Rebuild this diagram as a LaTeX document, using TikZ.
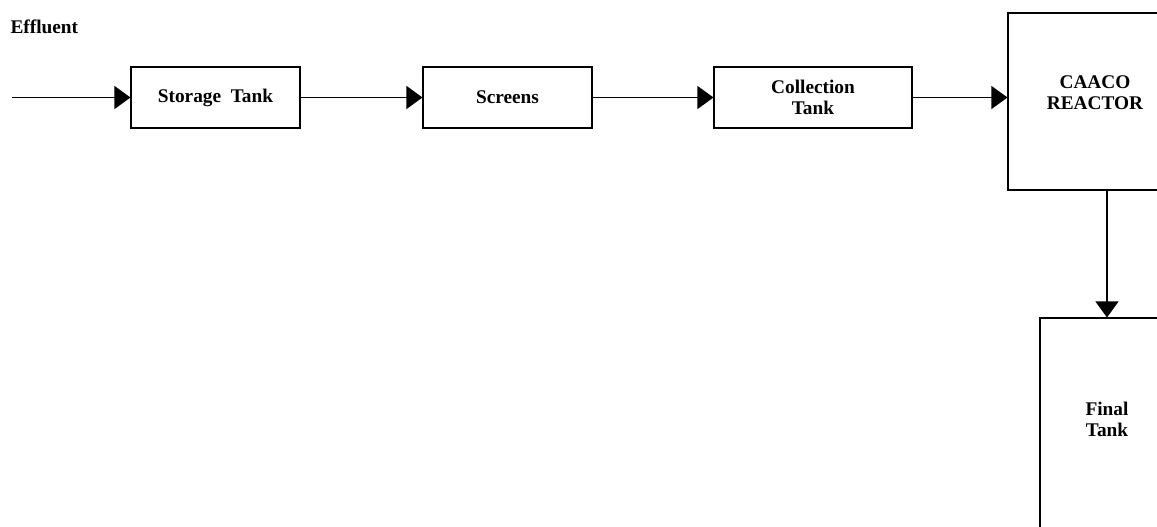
\documentclass[tikz,border=0pt]{standalone}
\usepackage{fontspec}
\setmainfont{Liberation Serif}
\usepackage{tikz}
\usetikzlibrary{calc}
\usetikzlibrary{arrows.meta}
\tikzset{>={Triangle[length=3.2mm,width=4.6mm]}}

\begin{document}
\begin{tikzpicture}[font=\fontsize{11}{13.2}\selectfont\bfseries,line width=0.6pt]
	\useasboundingbox (0,0) rectangle (23.14,-10.54);
	\clip (0,0) rectangle (23.14,-10.54);
	\node[anchor=west,inner sep=0pt] (effluent) at (0.2,-0.54) {Effluent};
	\coordinate (inlet) at (0.24,-1.95);
	\node[draw,minimum width=3.38cm,minimum height=1.22cm] (storage) at (4.31,-1.95) {Storage\ \ Tank};
	\node[draw,minimum width=3.38cm,minimum height=1.22cm] (screens) at (10.15,-1.95) {Screens};
	\node[draw,minimum width=3.96cm,minimum height=1.22cm,align=center] (collection) at (16.26,-1.95) {Collection\\[-1pt]Tank};
	\node[draw,minimum width=3.48cm,minimum height=3.54cm,align=center] (reactor) at (21.9,-2.03) {CAACO\\[-1pt]REACTOR\\[-3pt]~};
	\node[draw,minimum width=2.68cm,minimum height=4.3cm,align=center] (final) at (22.14,-8.51) {Final\\[-1pt]Tank\\[-6pt]~};
	\draw[->] (inlet)--(storage);
	\draw[->] (storage)--(screens);
	\draw[->] (screens)--(collection);
	\draw[->] (collection.east)--(collection.east -| reactor.west);
	\draw[->] (final.north |- reactor.south)--(final.north);
\end{tikzpicture}
\end{document}
